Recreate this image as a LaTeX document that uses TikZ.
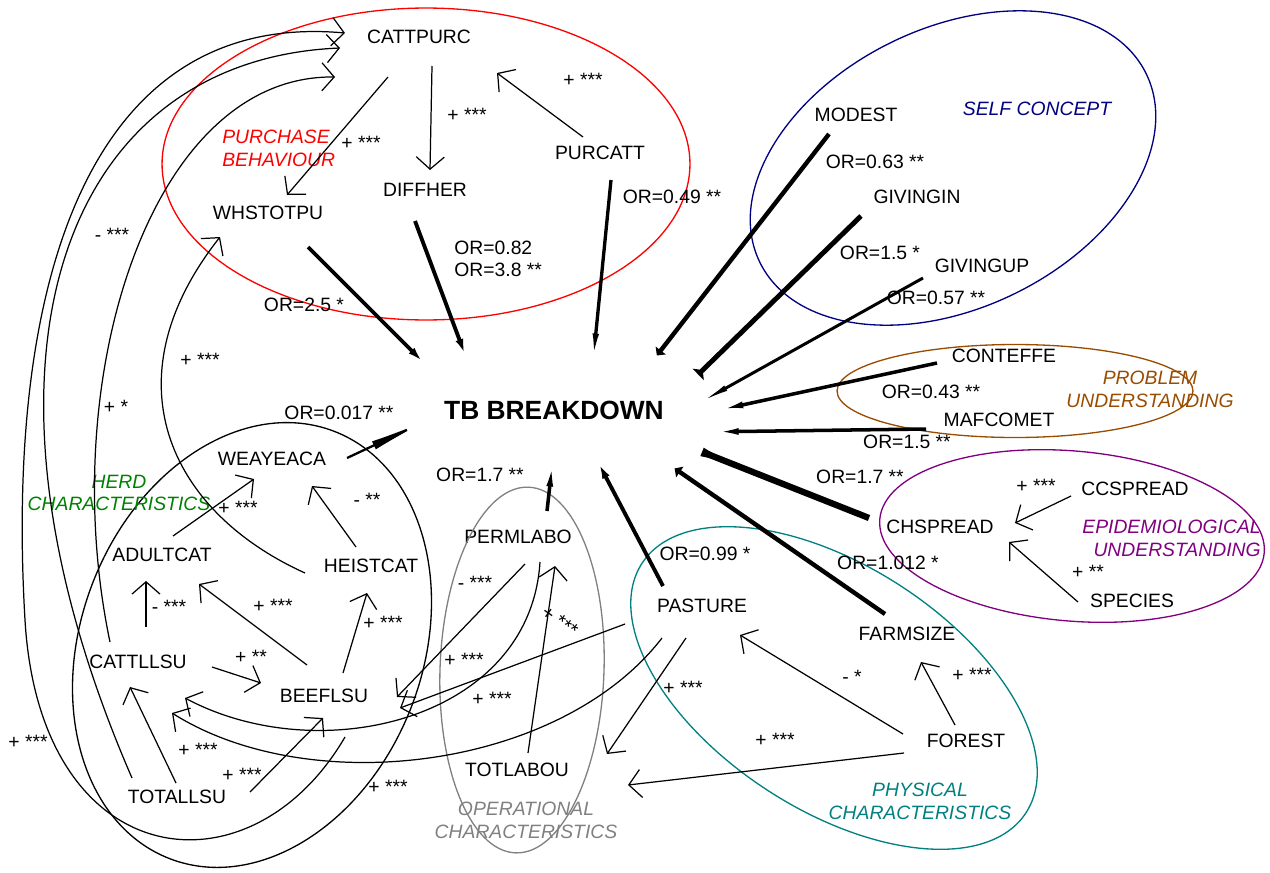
\documentclass[tikz,border=0pt]{standalone}
\usepackage{fontspec}
\setmainfont{Liberation Sans}
\usepackage{xcolor}
\usepackage{tikz}
\usetikzlibrary{arrows.meta,calc}

\definecolor{purchred}{RGB}{255,0,0}
\definecolor{selfblue}{RGB}{0,0,128}
\definecolor{probbrown}{RGB}{153,76,0}
\definecolor{epipurple}{RGB}{128,0,128}
\definecolor{herdgreen}{RGB}{0,128,0}
\definecolor{opgray}{RGB}{128,128,128}
\definecolor{phyteal}{RGB}{0,128,128}

\begin{document}
\begin{tikzpicture}[
    x=0.02cm, y=-0.02cm,
    >=Latex,
    font=\fontsize{11}{13}\selectfont,
    var/.style={
        inner sep=1pt
    },
    outcome/.style={
        font=\fontsize{15}{18}\selectfont\bfseries,
        inner sep=1pt
    },
    coef/.style={
        inner sep=0pt,
        align=left,
        font=\fontsize{11}{12.5}\selectfont
    },
    grp/.style={
        font=\fontsize{11}{13}\selectfont\itshape,
        inner sep=0pt,
        align=center
    },
    ring/.style={line width=0.75pt},
    arr/.style={-{Straight Barb[length=7pt,width=16pt]}, line width=0.7pt},
    spoke/.style={-{Latex[length=22pt,width=1.6pt 1]}, line width=2.2pt}
]
\useasboundingbox (0,0) rectangle (1270,872);

% purchase behaviour
\node[var] (cattpurc) at (419,37) {CATTPURC};
\node[var] (diffher) at (425,190) {DIFFHER};
\node[var] (purcatt) at (600,153) {PURCATT};
\node[var] (whstotpu) at (268,213) {WHSTOTPU};

% self concept
\node[var] (modest) at (856,115) {MODEST};
\node[var] (givingin) at (917,197) {GIVINGIN};
\node[var] (givingup) at (982,266) {GIVINGUP};

% problem understanding
\node[var] (conteffe) at (1004,356) {CONTEFFE};
\node[var] (mafcomet) at (999,420) {MAFCOMET};

% epidemiological understanding
\node[var] (chspread) at (940,527) {CHSPREAD};
\node[var] (ccspread) at (1135,489) {CCSPREAD};
\node[var] (species) at (1132,601) {SPECIES};

% physical characteristics
\node[var] (pasture) at (702,606) {PASTURE};
\node[var] (farmsize) at (907,634) {FARMSIZE};
\node[var] (forest) at (966,741) {FOREST};

% operational characteristics
\node[var] (permlabo) at (518,537) {PERMLABO};
\node[var] (totlabou) at (517,770) {TOTLABOU};

% herd characteristics
\node[var] (weayeaca) at (272,459) {WEAYEACA};
\node[var] (heistcat) at (371,566) {HEISTCAT};
\node[var] (adultcat) at (162,555) {ADULTCAT};
\node[var] (cattllsu) at (138,662) {CATTLLSU};
\node[var] (beeflsu) at (324,696) {BEEFLSU};
\node[var] (totallsu) at (177,797) {TOTALLSU};

% outcome
\node[outcome] (tb) at (554,410) {TB BREAKDOWN};

% group outlines
\draw[ring, purchred] (426,164) ellipse [x radius=5.28cm, y radius=3.12cm];
\draw[ring, selfblue, rotate around={26:(953,168)}] (953,168) ellipse [x radius=4.3cm, y radius=2.8cm];
\draw[ring, probbrown] (1015,391) ellipse [x radius=3.56cm, y radius=0.93cm];
\draw[ring, epipurple, rotate around={-5:(1072,536)}] (1072,536) ellipse [x radius=3.86cm, y radius=1.7cm];
\draw[ring, phyteal, rotate around={-33:(834,688)}] (834,688) ellipse [x radius=4.58cm, y radius=2.44cm];
\draw[ring, opgray, rotate around={-2:(522,670)}] (522,670) ellipse [x radius=1.64cm, y radius=3.66cm];
\draw[ring, black, rotate around={-21:(252,645)}] (252,645) ellipse [x radius=3.42cm, y radius=4.58cm];

% group names
\node[grp, text=purchred, align=left, anchor=west] (purchlab) at (222,148) {PURCHASE\\BEHAVIOUR};
\node[grp, text=selfblue] (selflab) at (1037,109) {SELF CONCEPT};
\node[grp, text=probbrown] (problab) at (1150,389) {PROBLEM\\UNDERSTANDING};
\node[grp, text=epipurple, align=right, anchor=east] (epilab) at (1261,538) {EPIDEMIOLOGICAL\\UNDERSTANDING};
\node[grp, text=herdgreen] (herdlab) at (119,493) {HERD\\CHARACTERISTICS};
\node[grp, text=opgray] (oplab) at (526,820) {OPERATIONAL\\CHARACTERISTICS};
\node[grp, text=phyteal] (phylab) at (920,801) {PHYSICAL\\CHARACTERISTICS};

% spokes into the outcome
\draw[spoke] ($(whstotpu)+(40,34)$) -- ($(tb)+(-115,-32)$);
\draw[spoke] ($(diffher)+(-10,31)$) -- ($(tb)+(-81,-34)$);
\draw[spoke, line width=1.9pt] ($(purcatt)+(11,27)$) -- ($(tb)+(38,-38)$);
\draw[spoke, line width=2.5pt] ($(modest)+(-27,19)$) -- ($(tb)+(83,-29)$);
\draw[spoke, line width=2.8pt] ($(givingin)+(-56,19)$) -- ($(tb)+(120,-12)$);
\draw[spoke, line width=1.7pt] ($(givingup)+(-59,12)$) -- ($(tb)+(138,-3)$);
\draw[spoke, line width=2pt] ($(conteffe)+(-67,7)$) -- ($(tb)+(151,3)$);
\draw[spoke, line width=2pt] ($(mafcomet)+(-73,9)$) -- ($(tb)+(146,22)$);
\draw[spoke, line width=3.6pt] ($(chspread)+(-71,-9)$) -- ($(tb)+(118,30)$);
\draw[spoke, line width=2.5pt] ($(farmsize)+(-22,-20)$) -- ($(tb)+(94,40)$);
\draw[spoke] ($(pasture)+(-39,-20)$) -- ($(tb)+(34,33)$);
\draw[spoke, line width=2pt] ($(permlabo)+(29,-26)$) -- ($(tb)+(0,38)$);
\draw[spoke, line width=1.3pt, -{Latex[length=34pt,width=5pt]}] ($(weayeaca)+(75,-1)$) -- ($(tb)+(-126,10)$);

% odds ratios
\node[coef] (orwhst) at (304,305) {OR=2.5 *};
\node[coef, anchor=west] (ordiff) at (454,259) {OR=0.82\\OR=3.8 **};
\node[coef] (orpurc) at (672,197) {OR=0.49 **};
\node[coef] (ormode) at (875,162) {OR=0.63 **};
\node[coef] (orgivi) at (880,253) {OR=1.5 *};
\node[coef] (orgivu) at (936,298) {OR=0.57 **};
\node[coef] (orcont) at (931,392) {OR=0.43 **};
\node[coef] (ormafc) at (907,442) {OR=1.5 **};
\node[coef] (orchsp) at (860,477) {OR=1.7 **};
\node[coef] (orfarm) at (888,563) {OR=1.012 *};
\node[coef] (orpast) at (705,554) {OR=0.99 *};
\node[coef] (orperm) at (480,475) {OR=1.7 **};
\node[coef] (orweay) at (339,413) {OR=0.017 **};

% purchase behaviour links
\draw[arr] ($(cattpurc)+(-31,40)$) -- ($(whstotpu)+(19,-18)$);
\draw[arr] ($(cattpurc)+(13,29)$) -- ($(diffher)+(5,-20)$);
\draw[arr] ($(purcatt)+(-17,-16)$) -- ($(cattpurc)+(78,36)$);
\node[coef] (sgcpwh) at (361,143) {+ ***};
\node[coef] (sgcpdi) at (467,115) {+ ***};
\node[coef] (sgpucp) at (583,80) {+ ***};

% epidemiological and physical links
\draw[arr] ($(ccspread)+(-64,7)$) -- ($(chspread)+(75,-4)$);
\draw[arr] ($(species)+(-54,1)$) -- ($(chspread)+(69,15)$);
\draw[arr] ($(forest)+(-11,-16)$) -- ($(farmsize)+(14,28)$);
\draw[arr] ($(forest)+(-63,-7)$) -- ($(pasture)+(38,29)$);
\draw[arr] ($(forest)+(-62,12)$) -- ($(totlabou)+(111,15)$);
\draw[arr] ($(pasture)+(-16,32)$) -- ($(totlabou)+(90,-16)$);
\node[coef] (sgccch) at (1036,486) {+ ***};
\node[coef] (sgspch) at (1088,572) {+ **};
\node[coef] (sgfofa) at (972,675) {+ ***};
\node[coef] (sgfopa) at (852,677) {- *};
\node[coef] (sgfoto) at (775,740) {+ ***};
\node[coef] (sgpato) at (683,688) {+ ***};

% operational links
\draw[arr] ($(totlabou)+(11,-17)$) -- ($(permlabo)+(37,29)$);
\draw[arr] ($(permlabo)+(7,27)$) -- ($(beeflsu)+(73,1)$);
\draw[arr] ($(pasture)+(-77,18)$) -- ($(beeflsu)+(76,12)$);
\draw[arr] ($(permlabo)+(22,25)$) .. controls (530,720) and (320,770) .. ($(cattllsu)+(47,36)$);
\draw[arr] ($(pasture)+(-40,32)$) .. controls (560,770) and (310,800) .. ($(cattllsu)+(34,51)$);
\node[coef, rotate=-35] (sgtope) at (560,621) {+ ***};
\node[coef] (sgpebe) at (475,583) {- ***};
\node[coef] (sgpabe) at (464,660) {+ ***};
\node[coef] (sgpeca) at (492,699) {+ ***};

% herd links
\draw[arr] ($(heistcat)+(-15,-19)$) -- ($(weayeaca)+(40,27)$);
\draw[arr] ($(adultcat)+(11,-19)$) -- ($(weayeaca)+(-18,20)$);
\draw[arr] ($(cattllsu)+(8,-35)$) -- ($(adultcat)+(-16,26)$);
\draw[arr] ($(beeflsu)+(-17,-31)$) -- ($(adultcat)+(37,29)$);
\draw[arr] ($(beeflsu)+(19,-23)$) -- ($(heistcat)+(-4,27)$);
\draw[arr] ($(cattllsu)+(74,5)$) -- ($(beeflsu)+(-63,-13)$);
\draw[arr] ($(totallsu)+(-1,-14)$) -- ($(cattllsu)+(-8,25)$);
\draw[arr] ($(totallsu)+(73,-5)$) -- ($(beeflsu)+(-1,22)$);
\draw[arr] ($(heistcat)+(-66,7)$) .. controls (168,511) and (108,379) .. ($(whstotpu)+(-48,24)$);
\node[coef] (sgadwe) at (238,508) {+ ***};
\node[coef] (sghewe) at (367,500) {- **};
\node[coef] (sgcaad) at (169,607) {- ***};
\node[coef] (sgbead) at (273,606) {+ ***};
\node[coef] (sgbehe) at (383,623) {+ ***};
\node[coef] (sgcabe) at (251,657) {+ **};
\node[coef] (sgtoca) at (198,750) {+ ***};
\node[coef] (sgtobe) at (242,775) {+ ***};
\node[coef] (sghewh) at (200,360) {+ ***};

% long arcs back to cattle purchase
\coordinate (outerbend) at (25,620);
\draw[arr] ($(beeflsu)+(21,41)$) .. controls (250,900) and (40,875) .. (outerbend)
    .. controls (5,280) and (90,10) .. ($(cattpurc)+(-74,-4)$);
\draw[arr] ($(totallsu)+(-45,-19)$) .. controls (-48,364) and (60,60) .. ($(cattpurc)+(-79,11)$);
\draw[arr] ($(cattllsu)+(-28,-20)$) .. controls (55,380) and (150,75) .. ($(cattpurc)+(-84,40)$);
\node[coef] (sgtocp) at (112,235) {- ***};
\node[coef] (sgcacp) at (116,407) {+ *};
\node[coef] (sgbecp) at (28,742) {+ ***};
\node[coef] (sgbeout) at (388,787) {+ ***};

\end{tikzpicture}
\end{document}
